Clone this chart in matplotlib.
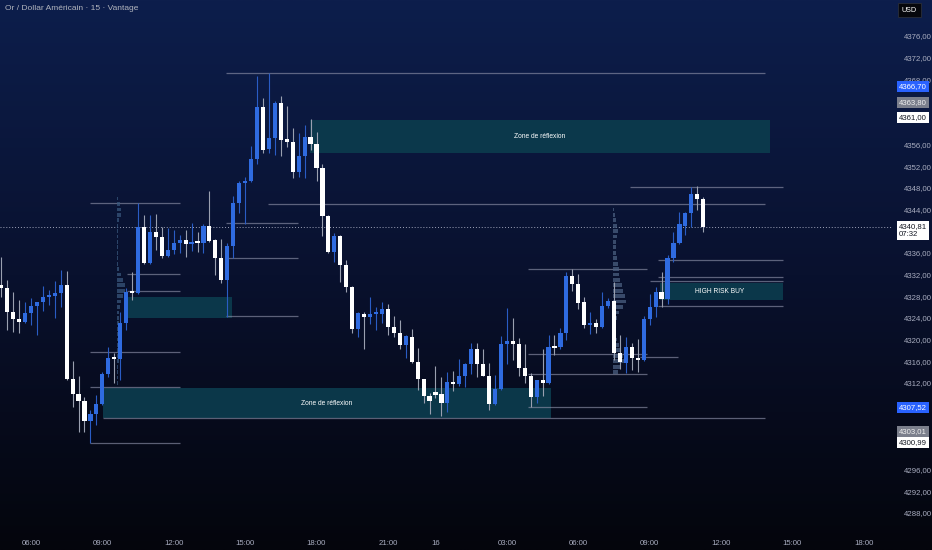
import matplotlib
matplotlib.use("Agg")
import matplotlib.pyplot as plt
import matplotlib.transforms as mtrans
from matplotlib.patches import Rectangle
from matplotlib.ticker import FuncFormatter, FixedLocator
import numpy as np

plt.rcParams['font.family'] = ['Liberation Sans', 'DejaVu Sans']

# 15 min bars, bar 0 = 06:00
first_bar = -5
opens = [4330.1, 4329.5, 4325.1, 4323.8, 4323.2, 4324.9, 4326.2, 4326.9, 4327.8, 4328.0,
         4328.6, 4330.1, 4312.7, 4310.0, 4308.7, 4305.0, 4306.3, 4308.1, 4313.6, 4316.6,
         4316.4, 4323.0, 4328.8, 4328.6, 4340.8, 4334.1, 4339.8, 4338.9, 4335.4, 4336.5,
         4337.8, 4338.4, 4337.6, 4338.0, 4337.8, 4340.9, 4338.4, 4335.0, 4331.0, 4337.3,
         4345.2, 4348.9, 4349.3, 4353.3, 4362.9, 4355.2, 4357.2, 4363.6, 4357.0, 4356.4,
         4350.9, 4353.9, 4357.4, 4356.1, 4351.6, 4342.8, 4336.1, 4339.1, 4333.8, 4329.7,
         4321.9, 4324.7, 4324.2, 4324.7, 4324.7, 4325.6, 4322.3, 4321.2, 4319.0, 4320.5,
         4315.9, 4312.7, 4309.6, 4310.3, 4310.0, 4308.3, 4312.2, 4311.8, 4313.3, 4315.5,
         4318.3, 4315.5, 4313.3, 4308.1, 4310.9, 4319.2, 4319.7, 4319.2, 4314.7, 4313.3,
         4309.4, 4312.5, 4312.0, 4318.6, 4318.6, 4321.2, 4331.7, 4330.2, 4326.9, 4322.7,
         4323.0, 4322.3, 4326.2, 4327.1, 4317.5, 4315.7, 4318.6, 4316.4, 4316.2, 4323.8,
         4326.0, 4328.8, 4327.5, 4335.0, 4337.8, 4340.9, 4343.3, 4346.9, 4345.9]
highs = [4335.2, 4331.0, 4328.8, 4327.3, 4326.9, 4327.7, 4327.0, 4329.9, 4329.1, 4330.8,
         4332.8, 4332.6, 4316.0, 4313.3, 4309.4, 4307.0, 4309.8, 4314.0, 4318.6, 4317.5,
         4325.1, 4329.5, 4332.5, 4345.2, 4343.0, 4343.0, 4343.2, 4340.8, 4340.6, 4340.2,
         4339.3, 4340.2, 4341.5, 4339.8, 4341.3, 4347.4, 4338.5, 4338.5, 4337.8, 4346.5,
         4349.3, 4350.0, 4355.7, 4368.6, 4364.6, 4369.2, 4364.0, 4364.9, 4363.1, 4359.0,
         4358.1, 4359.6, 4360.7, 4358.3, 4352.4, 4342.9, 4339.7, 4339.2, 4334.7, 4329.8,
         4325.1, 4325.1, 4327.8, 4326.0, 4326.9, 4326.6, 4324.3, 4323.6, 4320.8, 4321.9,
         4318.4, 4312.8, 4310.1, 4315.1, 4313.1, 4314.0, 4314.2, 4316.4, 4315.6, 4319.4,
         4319.4, 4318.3, 4315.7, 4313.5, 4320.6, 4325.8, 4324.0, 4320.3, 4319.2, 4313.8,
         4312.6, 4318.3, 4320.8, 4320.8, 4322.1, 4332.5, 4333.0, 4332.1, 4327.8, 4325.1,
         4323.8, 4328.8, 4327.7, 4330.6, 4320.8, 4320.5, 4319.4, 4320.1, 4324.3, 4328.4,
         4329.7, 4332.5, 4335.6, 4339.8, 4343.5, 4343.5, 4348.1, 4348.3, 4346.3]
lows = [4327.8, 4321.8, 4321.4, 4321.2, 4323.0, 4322.7, 4320.8, 4325.3, 4326.4, 4324.0,
        4326.0, 4312.5, 4307.6, 4302.9, 4302.9, 4300.9, 4304.2, 4307.9, 4313.1, 4312.0,
        4312.5, 4321.8, 4327.3, 4328.4, 4333.9, 4333.9, 4336.5, 4335.0, 4335.2, 4335.8,
        4336.0, 4335.2, 4336.3, 4336.1, 4336.0, 4338.0, 4331.9, 4330.4, 4324.2, 4335.0,
        4343.3, 4341.3, 4349.1, 4352.4, 4354.4, 4354.4, 4354.0, 4353.9, 4355.5, 4349.8,
        4350.0, 4349.8, 4355.0, 4349.3, 4339.1, 4336.0, 4334.3, 4330.6, 4328.8, 4321.2,
        4320.5, 4318.3, 4322.9, 4321.8, 4323.0, 4320.8, 4320.5, 4318.3, 4316.6, 4315.7,
        4310.7, 4308.3, 4306.3, 4309.2, 4305.9, 4306.6, 4310.5, 4311.4, 4311.2, 4313.6,
        4313.1, 4313.2, 4307.0, 4308.0, 4310.7, 4315.5, 4316.2, 4313.3, 4312.0, 4307.6,
        4308.3, 4309.6, 4311.8, 4317.1, 4318.3, 4319.9, 4329.0, 4325.6, 4322.1, 4321.0,
        4321.2, 4322.2, 4325.8, 4316.2, 4314.6, 4313.8, 4314.4, 4314.0, 4316.1, 4322.7,
        4324.2, 4326.0, 4326.6, 4334.3, 4337.6, 4339.3, 4340.8, 4343.9, 4339.8]
closes = [4329.5, 4325.1, 4323.8, 4323.2, 4324.9, 4326.2, 4326.9, 4327.8, 4328.2, 4328.6,
          4330.1, 4312.7, 4310.0, 4308.7, 4305.0, 4306.3, 4308.1, 4313.6, 4316.6, 4316.4,
          4323.0, 4328.8, 4328.6, 4340.8, 4334.1, 4339.8, 4338.9, 4335.4, 4336.5, 4337.8,
          4338.4, 4337.6, 4338.0, 4337.8, 4340.9, 4338.2, 4335.0, 4331.0, 4337.3, 4345.2,
          4348.9, 4349.3, 4353.3, 4362.9, 4355.0, 4357.2, 4363.6, 4356.8, 4356.4, 4350.9,
          4353.9, 4357.4, 4356.1, 4351.6, 4342.8, 4336.1, 4339.1, 4333.8, 4329.7, 4321.9,
          4324.9, 4324.2, 4324.7, 4324.9, 4325.6, 4322.3, 4321.2, 4319.0, 4320.6, 4315.9,
          4312.7, 4309.6, 4308.7, 4309.8, 4308.3, 4312.2, 4311.8, 4313.3, 4315.5, 4318.3,
          4315.5, 4313.3, 4308.1, 4310.9, 4319.2, 4319.7, 4319.2, 4314.7, 4313.3, 4309.4,
          4312.5, 4312.0, 4318.6, 4318.4, 4321.2, 4331.7, 4330.2, 4326.7, 4322.7, 4323.0,
          4322.3, 4326.2, 4327.1, 4317.5, 4315.9, 4318.6, 4316.6, 4316.2, 4323.8, 4326.0,
          4328.8, 4327.5, 4335.0, 4337.8, 4341.3, 4343.3, 4346.9, 4345.9, 4340.81]

tick_bars = [0, 12, 24, 36, 48, 60, 68, 80, 92, 104, 116, 128, 140]
tick_names = ['06:00', '09:00', '12:00', '15:00', '18:00', '21:00', '16',
              '03:00', '06:00', '09:00', '12:00', '15:00', '18:00']
# price ticks shown on the scale (the ones hidden behind the price tags are left out)
price_ticks = [4288, 4292, 4296, 4312, 4316, 4320, 4324, 4328, 4332, 4336, 4344,
               4348, 4352, 4356, 4368, 4372, 4376]

# horizontal levels: price, from bar, to bar
lvl_price = [4369.2, 4345.2, 4332.1, 4329.0, 4317.7, 4311.2, 4300.9, 4345.0, 4341.5,
             4335.0, 4324.3, 4348.1, 4334.7, 4331.5, 4330.8, 4326.2, 4333.0, 4317.3,
             4316.8, 4313.6, 4307.6, 4305.5]
lvl_from = [32.8, 9.9, 16.1, 16.1, 9.9, 9.9, 9.9, 39.8, 32.8, 32.8, 32.8, 100.7, 105.4,
            105.4, 104.0, 105.4, 83.5, 83.5, 102.4, 83.5, 83.5, 12.1]
lvl_to = [123.4, 25.0, 25.0, 25.0, 25.0, 25.0, 25.0, 123.4, 44.9, 44.9, 44.9, 126.4,
          126.4, 126.4, 126.4, 126.4, 103.5, 103.5, 108.7, 103.5, 103.5, 123.4]

# zones
zone_low = [4354.4, 4305.5, 4324.0, 4327.3]
zone_high = [4360.5, 4311.0, 4327.8, 4330.4]
zone_from = [46.9, 12.1, 16.3, 105.7]
zone_to = [124.2, 87.4, 33.8, 126.4]
zone_text = ['Zone de réflexion', 'Zone de réflexion', '', 'HIGH RISK BUY']
zone_text_bar = [85.5, 49.7, 0, 115.8]

# session volume profiles
vp1_bar = 14.5
vp1_price = [4346, 4345, 4344, 4343, 4342, 4341, 4340, 4339, 4338, 4337, 4336, 4335, 4334,
             4333, 4332, 4331, 4330, 4329, 4328, 4327, 4326, 4325, 4324, 4323, 4322, 4321,
             4320, 4319, 4318, 4317, 4316, 4315, 4314, 4313, 4312]
vp1_vol = [1, 3, 4, 4, 2, 1, 1, 1, 1, 1, 1, 1, 1, 2, 4, 6, 8, 8, 6, 4, 3, 2, 2, 2, 2, 2,
           2, 2, 2, 2, 2, 1, 1, 1, 1]
vp2_bar = 97.8
vp2_price = [4344, 4343, 4342, 4341, 4340, 4339, 4338, 4337, 4336, 4335, 4334, 4333, 4332,
             4331, 4330, 4329, 4328, 4327, 4326, 4325, 4324, 4323, 4322, 4321, 4320, 4319,
             4318, 4317, 4316, 4315, 4314]
vp2_vol = [1, 2, 3, 4, 5, 4, 3, 3, 3, 4, 5, 6, 6, 7, 9, 10, 12, 13, 10, 6, 4, 3, 2, 3, 4,
           6, 8, 10, 11, 8, 5]

last_price = 4340.81
side_labels = [(4366.70, '4366,70', '#2962ff', 'white'),
               (4363.80, '4363,80', '#7b7f8c', '#f0f0f0'),
               (4361.00, '4361,00', 'white', '#131722'),
               (4307.52, '4307,52', '#2962ff', 'white'),
               (4303.01, '4303,01', '#7b7f8c', '#f0f0f0'),
               (4300.99, '4300,99', 'white', '#131722')]

W, H = 932, 550
fig = plt.figure(figsize=(W / 100, H / 100), dpi=100)

# background gradient
bg = fig.add_axes([0, 0, 1, 1], zorder=-10)
top = np.array([13, 30, 76]) / 255
mid = np.array([9, 17, 46]) / 255
bot = np.array([4, 5, 12]) / 255
t = np.linspace(0, 1, 300)[:, None]
grad = np.where(t < 0.5, top + (mid - top) * (t / 0.5), mid + (bot - mid) * ((t - 0.5) / 0.5))
bg.imshow(grad[:, None, :].repeat(2, axis=1), aspect='auto', extent=[0, 1, 0, 1])
bg.axis('off')

ax = fig.add_axes([0, 20 / H, 893 / W, 530 / H])
ax.set_facecolor('none')
for s in ax.spines.values():
    s.set_visible(False)

idx = np.arange(first_bar, first_bar + len(opens))
o = np.array(opens); h = np.array(highs); l = np.array(lows); c = np.array(closes)
up = c >= o
blue = '#2f6be0'
wick_blue = '#2a5cc4'
wick_white = '#9aa0b0'

ax.vlines(idx[up], l[up], h[up], color=wick_blue, lw=0.8, zorder=4)
ax.vlines(idx[~up], l[~up], h[~up], color=wick_white, lw=0.8, zorder=4)
body_lo = np.minimum(o, c)
body_h = np.maximum(np.abs(c - o), 0.35)
ax.bar(idx[up], body_h[up], bottom=body_lo[up], width=0.7, color=blue, zorder=5, lw=0)
ax.bar(idx[~up], body_h[~up], bottom=body_lo[~up], width=0.7, color='white', zorder=5, lw=0)

# zones
for lo_, hi_, a, b, txt, tb in zip(zone_low, zone_high, zone_from, zone_to, zone_text, zone_text_bar):
    ax.add_patch(Rectangle((a, lo_), b - a, hi_ - lo_, facecolor='#0c3a4c', edgecolor='none',
                           alpha=0.95, zorder=1))
    if txt:
        ax.text(tb, (lo_ + hi_) / 2, txt, color='white', fontsize=4.8, ha='center',
                va='center', zorder=6)

# level lines
ax.hlines(lvl_price, lvl_from, lvl_to, color='#8a8ea6', lw=0.9, alpha=0.65, zorder=2)

# volume profiles
ax.barh(vp1_price, np.array(vp1_vol) * 0.17, left=vp1_bar, height=0.7,
        color='#3a5a80', alpha=0.7, zorder=3, lw=0)
ax.barh(vp2_price, np.array(vp2_vol) * 0.17, left=vp2_bar, height=0.7,
        color='#4a5f80', alpha=0.75, zorder=3, lw=0)

# last price dotted
ax.axhline(last_price, color='#9ea3b8', lw=0.7, ls=(0, (1, 2)), zorder=2)

ax.set_xlim(-5.2, 144.9)
ax.set_ylim(4382.64 - 530 / 5.42, 4382.64)

ax.xaxis.set_major_locator(FixedLocator(tick_bars))
ax.set_xticklabels(tick_names)
ax.yaxis.tick_right()
ax.yaxis.set_major_locator(FixedLocator(price_ticks))
ax.yaxis.set_major_formatter(FuncFormatter(lambda v, p: f'{v:.2f}'.replace('.', ',')))
ax.tick_params(axis='y', length=0, pad=8, labelsize=5.6, colors='#a9adc0')
ax.tick_params(axis='x', length=0, pad=7, labelsize=5.6, colors='#a9adc0')

trans = mtrans.blended_transform_factory(ax.transAxes, ax.transData)
for price, txt, fc, tc in side_labels:
    ax.text(1.0065, price, txt, transform=trans, fontsize=5.6, color=tc, ha='left',
            va='center', clip_on=False, zorder=10,
            bbox=dict(boxstyle='square,pad=0.25', fc=fc, ec='none'))
ax.text(1.0065, last_price - 0.7, '4340,81\n07:32', transform=trans, fontsize=5.6,
        color='#131722', ha='left', va='center', clip_on=False, zorder=10, linespacing=1.1,
        bbox=dict(boxstyle='square,pad=0.25', fc='white', ec='none'))

fig.text(902 / W, 1 - 10 / H, 'USD', fontsize=5.2, color='white', ha='left', va='center',
         bbox=dict(boxstyle='square,pad=0.5', fc='#06070c', ec='#2a2e39', lw=0.6))
fig.text(5 / W, 1 - 9 / H, 'Or / Dollar Américain · 15 · Vantage', fontsize=6,
         color='#b2b5be', ha='left', va='center')

fig.savefig('out.png', dpi=100)
